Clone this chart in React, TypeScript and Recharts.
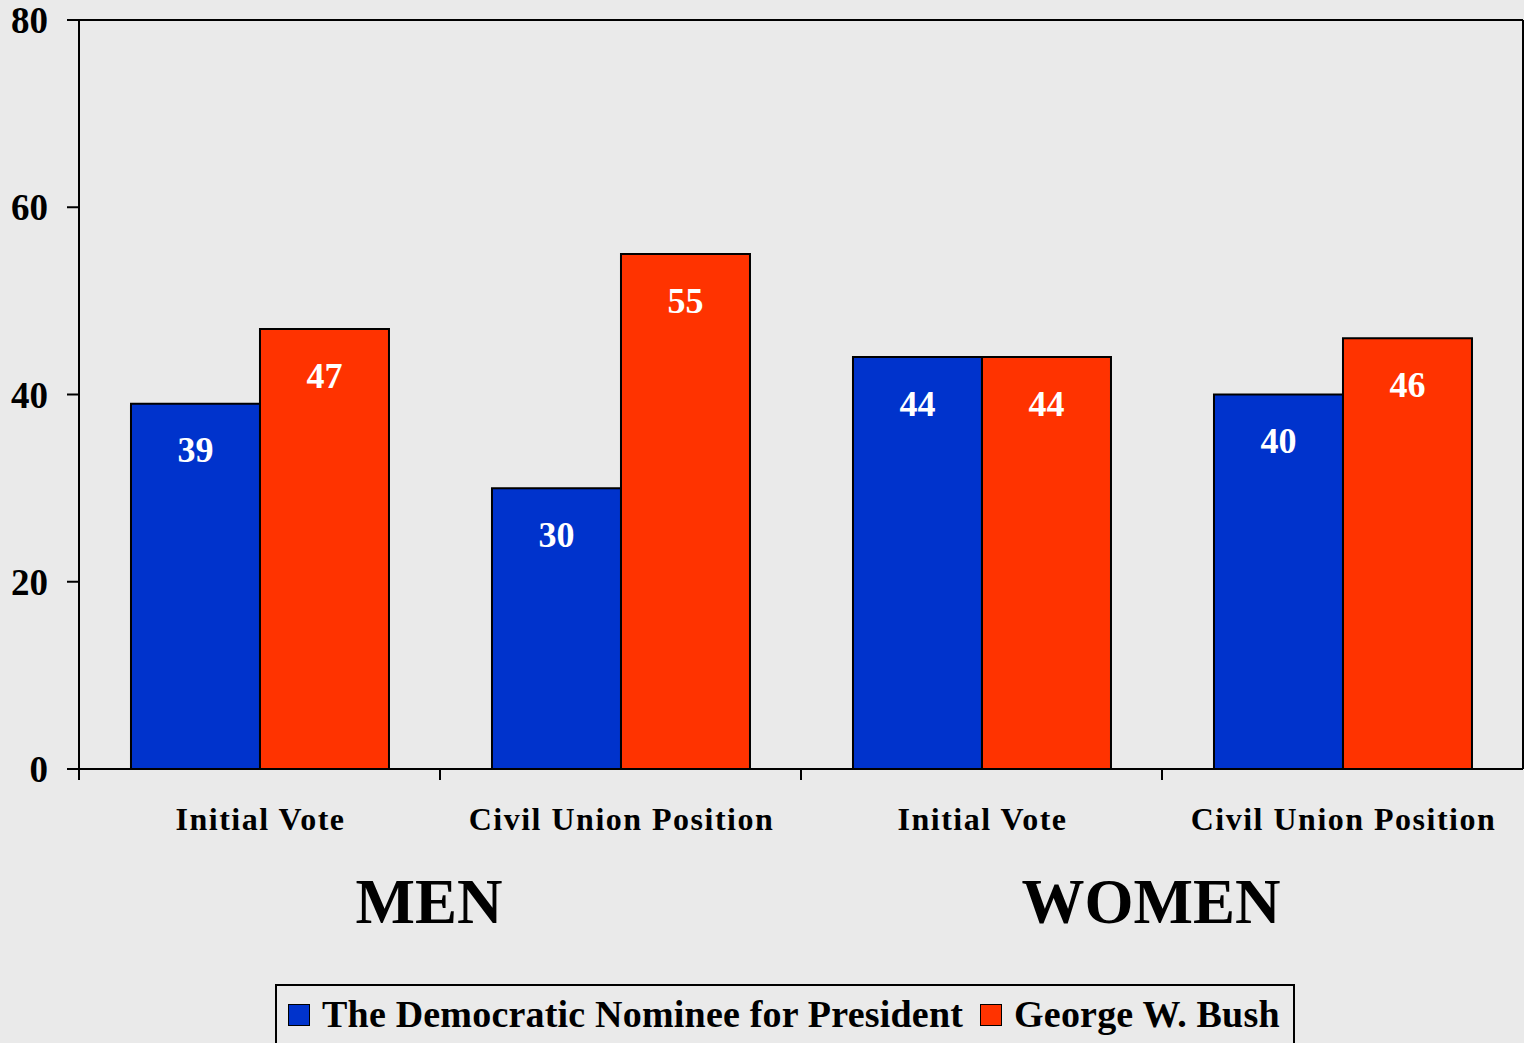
import { Bar, BarChart, LabelList, XAxis, YAxis } from "recharts";

const categories = ["Initial Vote", "Civil Union Position", "Initial Vote", "Civil Union Position"];
const groups = ["MEN", "MEN", "WOMEN", "WOMEN"];
const democratValues = [39, 30, 44, 40];
const bushValues = [47, 55, 44, 46];
const yTicks = [0, 20, 40, 60, 80];

const SERIES = [
  { key: "democrat", name: "The Democratic Nominee for President", color: "#0033CC" },
  { key: "bush", name: "George W. Bush", color: "#FF3300" },
];

const data = categories.map((label, i) => ({
  label,
  group: groups[i],
  democrat: democratValues[i],
  bush: bushValues[i],
}));

const W = 1524;
const H = 1043;
const FONT = "'Liberation Serif', 'Times New Roman', serif";
const BG = "#EAEAEA";
const PLOT_LEFT = 79;
const PLOT_RIGHT = 1523;
const BAND = (PLOT_RIGHT - PLOT_LEFT) / categories.length;

function CategoryTick({ x, y, payload, index }: { x: number; y: number; payload: { value: string }; index: number }) {
  const showGroup = index % 2 === 0;
  return (
    <g>
      <line x1={x - BAND / 2} x2={x - BAND / 2} y1={y} y2={y + 11} stroke="#000" strokeWidth={2} />
      <text
        x={x + 1}
        y={y + 61}
        textAnchor="middle"
        fontFamily={FONT}
        fontWeight="bold"
        fontSize={32}
        letterSpacing={1.5}
        fill="#000"
      >
        {payload.value}
      </text>
      {showGroup && (
        <text
          x={x + BAND / 2 - 11}
          y={y + 154}
          textAnchor="middle"
          fontFamily={FONT}
          fontWeight="bold"
          fontSize={63}
          fill="#000"
        >
          {groups[index]}
        </text>
      )}
    </g>
  );
}

function LegendBox() {
  return (
    <div
      style={{
        position: "absolute",
        left: 275,
        top: 984,
        width: 1020,
        height: 70,
        border: "2px solid #000",
        boxSizing: "border-box",
        display: "flex",
        alignItems: "flex-start",
        paddingLeft: 11,
        paddingTop: 8,
        fontFamily: FONT,
        fontWeight: "bold",
        fontSize: 38,
        letterSpacing: 0.2,
        lineHeight: "40px",
        color: "#000",
      }}
    >
      {SERIES.map((s, i) => (
        <div key={s.key} style={{ display: "flex", alignItems: "center", marginRight: i === 0 ? 17 : 0 }}>
          <span
            style={{
              display: "inline-block",
              width: 22,
              height: 22,
              background: s.color,
              border: "1.5px solid #000",
              boxSizing: "border-box",
              marginRight: 12,
              marginTop: 2,
            }}
          />
          <span>{s.name}</span>
        </div>
      ))}
    </div>
  );
}

export default function App() {
  return (
    <div style={{ position: "absolute", left: 0, top: 0, width: W, height: H, background: BG, overflow: "hidden" }}>
      <BarChart
        width={W}
        height={H}
        data={data}
        margin={{ top: 19, right: 0, bottom: 0, left: 0 }}
        barCategoryGap="14.4%"
        barGap={0}
      >
        <XAxis
          dataKey="label"
          height={274}
          axisLine={{ stroke: "#000", strokeWidth: 2 }}
          tickLine={false}
          tickSize={0}
          tickMargin={0}
          interval={0}
          tick={(props: any) => <CategoryTick {...props} />}
        />
        <XAxis
          xAxisId="top"
          dataKey="label"
          orientation="top"
          height={1}
          axisLine={{ stroke: "#000", strokeWidth: 2 }}
          tick={false}
          tickLine={false}
        />
        <YAxis
          width={PLOT_LEFT}
          domain={[0, 80]}
          ticks={yTicks}
          interval={0}
          axisLine={{ stroke: "#000", strokeWidth: 2 }}
          tickLine={{ stroke: "#000", strokeWidth: 2 }}
          tickSize={12}
          tickMargin={19}
          tick={{ fill: "#000", fontFamily: FONT, fontWeight: "bold", fontSize: 37 }}
        />
        <YAxis
          yAxisId="right"
          orientation="right"
          width={1}
          domain={[0, 80]}
          axisLine={{ stroke: "#000", strokeWidth: 2 }}
          tick={false}
          tickLine={false}
        />
        {SERIES.map((s) => (
          <Bar
            key={s.key}
            dataKey={s.key}
            name={s.name}
            fill={s.color}
            stroke="#000"
            strokeWidth={2}
            isAnimationActive={false}
          >
            <LabelList
              dataKey={s.key}
              position="insideTop"
              offset={33}
              fill="#fff"
              fontFamily={FONT}
              fontWeight="bold"
              fontSize={36}
            />
          </Bar>
        ))}
      </BarChart>
      <LegendBox />
    </div>
  );
}
